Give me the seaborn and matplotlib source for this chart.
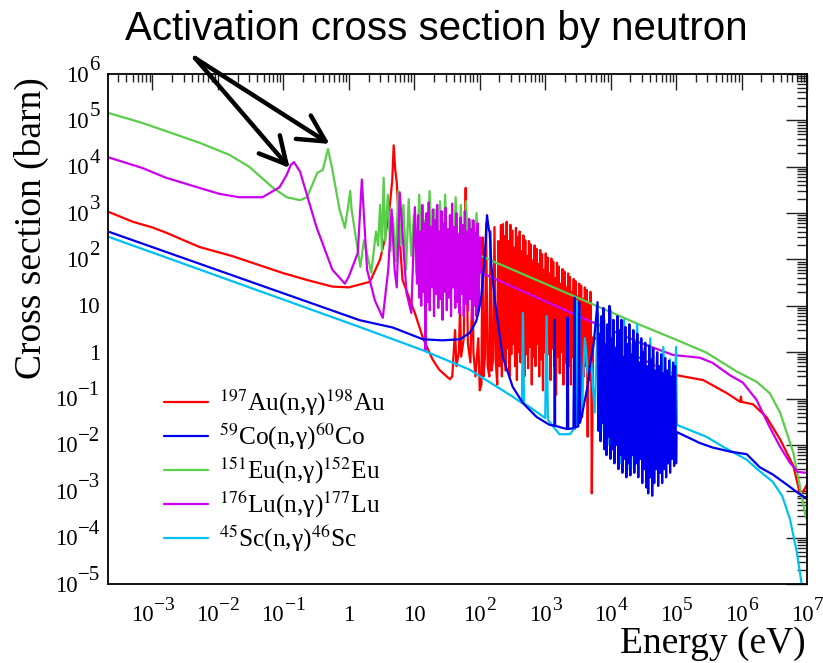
import numpy as np
import pandas as pd
import matplotlib
matplotlib.use("Agg")
import matplotlib.pyplot as plt
import matplotlib.transforms as mtransforms
from matplotlib.ticker import LogLocator, NullFormatter, FixedLocator
import seaborn as sns

# ---------------- data ----------------
# 197Au(n,g)198Au
au_E_low = [2.1e-4, 5e-4, 1e-3, 1.6e-3, 5.2e-3, 0.0166, 0.098, 0.23, 0.56, 1.0, 2.1, 3.0, 3.6, 4.2, 4.6, 4.84, 5.1, 5.4, 6.0, 6.6, 10.2, 13.6, 19, 24, 35]
au_xs_low = [1070, 650, 490, 380, 186, 118, 51, 36, 26, 25, 33, 100, 300, 1350, 5000, 29000, 9000, 4500, 265, 36, 7, 2.0, 0.7, 0.42, 0.26]
au_E_res = [38, 42, 44, 48, 50, 52, 57, 59.5, 61, 62.5, 66, 72, 78, 80, 86, 95, 100, 106, 110, 114, 120, 125, 132, 140, 146, 152, 160, 168, 176, 185, 192, 200, 210, 218]
au_xs_res = [0.3, 3, 0.5, 1, 9.5, 0.8, 2, 400, 3500, 150, 1.5, 0.6, 50, 1.0, 0.3, 2, 0.15, 0.2, 300, 0.3, 0.8, 600, 0.5, 0.3, 400, 0.4, 0.7, 500, 0.6, 0.2, 250, 0.5, 550, 0.3]
au_E_forest = [226, 233.5, 241.3, 249.3, 257.6, 266.2, 275.1, 284.2, 293.7, 303.5,
               313.6, 324, 334.8, 346, 357.5, 369.4, 381.7, 394.4, 407.6, 421.1,
               435.2, 449.7, 464.6, 480.1, 496.1, 512.6, 529.7, 547.3, 565.6, 584.4,
               603.9, 624, 644.8, 666.2, 688.4, 711.4, 735, 759.5, 784.8, 811,
               838, 865.9, 894.7, 924.5, 955.3, 987.1, 1020, 1054, 1089, 1125,
               1163, 1202, 1242, 1283, 1326, 1370, 1416, 1463, 1512, 1562,
               1614, 1668, 1723, 1781, 1840, 1901, 1965, 2030, 2098, 2168,
               2240, 2314, 2391, 2471, 2553, 2638, 2726, 2817, 2911, 3008,
               3108, 3212, 3319, 3429, 3543, 3661, 3783, 3909, 4040, 4174,
               4313, 4457, 4605, 4759, 4917, 5063]
au_xs_forest = [580, 0.8, 320, 0.4, 650, 1.2, 250, 0.3, 560, 0.9,
                420, 1.5, 180, 0.5, 480, 0.25, 300, 1.0, 400, 0.6,
                150, 1.8, 330, 0.3, 260, 0.9, 120, 0.45, 250, 1.3,
                210, 0.2, 95, 0.8, 200, 0.5, 170, 1.5, 80, 0.3,
                160, 0.7, 130, 0.15, 60, 1.0, 135, 0.4, 110, 0.9,
                50, 0.25, 105, 1.2, 90, 0.5, 40, 0.12, 85, 0.8,
                70, 0.35, 30, 1.0, 62, 0.2, 55, 0.6, 25, 0.05,
                50, 0.5, 42, 0.2, 20, 0.8, 38, 0.022, 34, 0.4,
                16, 0.15, 30, 0.6, 27, 0.04, 14, 0.3, 25, 0.5,
                22, 0.015, 12, 0.25, 20, 0.3]
au_E_fast = [5150, 5400, 7700, 15000, 28000, 50000, 1e5, 2.6e5, 6.0e5, 9.5e5, 9.8e5, 1.0e6, 1.5e6, 2.4e6, 3.9e6, 6.2e6, 7.8e6, 8.8e6, 1e7]
au_xs_fast = [9e-4, 2.1, 1.6, 1.1, 0.75, 0.5, 0.32, 0.25, 0.13, 0.085, 0.11, 0.085, 0.075, 0.04, 0.013, 3.5e-3, 8.8e-4, 1.0e-3, 1.4e-3]

# 59Co(n,g)60Co
co_E_low = [2.1e-4, 1.46, 4.7, 13.5, 27, 50, 70, 88, 95, 105, 115, 122, 129, 136, 142, 150, 170, 224, 318, 455, 740, 1170,
            1380, 1400, 1420, 1700, 2150, 2200, 2250, 2700, 2800, 2900, 3200, 3300, 3400, 3700, 4500, 4800, 5500]
co_xs_low = [400, 4.9, 3.4, 1.9, 1.8, 1.9, 2.6, 4.6, 7, 15, 60, 200, 900, 500, 370, 80, 13, 0.8, 0.18, 0.08, 0.04, 0.027,
             0.026, 5, 0.026, 0.024, 0.022, 5.7, 0.022, 0.023, 15, 0.024, 0.025, 12, 0.03, 0.05, 0.2, 0.5, 1.5]
co_E_forest = [6300, 6524, 6757, 6997, 7246, 7504, 7772, 8048, 8335, 8632,
               8939, 9258, 9587, 9929, 10282, 10648, 11028, 11420, 11827, 12248,
               12684, 13136, 13604, 14088, 14590, 15109, 15647, 16205, 16782, 17379,
               17998, 18639, 19303, 19990, 20702, 21439, 22203, 22993, 23812, 24660,
               25538, 26448, 27390, 28365, 29375, 30421, 31504, 32626, 33788, 34991,
               36237, 37527, 38864, 40248, 41681, 43165, 44702, 46294, 47943, 49650,
               51418, 53249, 55145, 57109, 59142, 61248, 63429, 65688, 68027, 70450,
               72958, 75556, 78247, 81033, 83919, 86907, 90002, 93207, 96526, 100000]
co_xs_forest = [12, 0.02, 2.5, 0.012, 6, 0.03, 9, 0.008, 1.5, 0.006,
                4, 0.015, 10, 0.005, 2, 0.008, 5, 0.004, 1.2, 0.01,
                6, 0.003, 3, 0.006, 5, 0.0025, 0.8, 0.005, 3.5, 0.002,
                1.5, 0.004, 4, 0.0022, 0.9, 0.006, 3, 0.0025, 1.6, 0.004,
                2.5, 0.002, 0.6, 0.005, 2, 0.0015, 1.0, 0.003, 1.6, 0.0012,
                0.5, 0.0009, 1.4, 0.002, 0.7, 0.0008, 1.2, 0.0015, 0.4, 0.003,
                1.0, 0.0013, 0.5, 0.0025, 0.9, 0.0015, 0.35, 0.003, 0.75, 0.002,
                0.4, 0.004, 0.65, 0.0025, 0.3, 0.005, 0.6, 0.0035, 0.5, 0.004]
co_E_fast = [1.02e5, 2.3e5, 3.6e5, 6.6e5, 1.2e6, 1.9e6, 3.0e6, 4.9e6, 7.0e6, 1e7]
co_xs_fast = [0.019, 0.011, 8.8e-3, 7.2e-3, 6.3e-3, 3.3e-3, 2.3e-3, 1.4e-3, 9.6e-4, 6.8e-4]

# 151Eu(n,g)152Eu
eu_E_low = [2.1e-4, 7e-4, 5.2e-3, 0.015, 0.030, 0.068, 0.112, 0.18, 0.23, 0.33, 0.40, 0.48, 0.56, 0.72, 0.87, 0.96, 1.05, 1.1,
            1.5, 1.7, 2.2, 2.6, 2.8, 3.0, 3.2, 3.4]
eu_xs_low = [1.45e5, 8.8e4, 3.3e4, 1.8e4, 1.0e4, 3.6e3, 2.2e3, 1.9e3, 2.2e3, 7.4e3, 8.5e3, 2.4e4, 8.6e3, 1.2e3, 480, 1.2e3, 3.0e3, 1.2e3,
             69, 260, 52, 400, 200, 1500, 150, 5800]
eu_E_forest = [3.6, 3.94, 4.32, 4.73, 5.19, 5.69, 6.23, 6.83, 7.49, 8.21, 9.0, 9.86, 10.8, 11.9, 13.0, 14.2, 15.6, 17.1,
               18.7, 20.5, 22.5, 24.7, 27.0, 29.6, 32.5, 35.6, 39.0, 42.8, 46.9, 51.4, 56.3, 61.7, 67.7, 74.2, 81.3, 89.1, 97.7]
eu_xs_forest = [250, 2500, 150, 800, 90, 3000, 200, 1500, 60, 2000, 120, 900, 50, 2500, 80, 700, 40, 3000, 100, 1200,
                30, 1800, 60, 2500, 40, 900, 25, 2200, 60, 1500, 30, 1800, 50, 700, 20, 1000, 40]
eu_E_fast = [102, 3700, 28000, 1e5, 2.9e5, 8.5e5, 1.7e6, 2.7e6, 3.9e6, 6.2e6, 9.4e6, 1e7]
eu_xs_fast = [120, 13.5, 3.9, 1.86, 0.98, 0.38, 0.23, 0.13, 0.049, 6.7e-3, 3.2e-4, 2.4e-4]

# 176Lu(n,g)177Lu
lu_E_low = [2.1e-4, 7e-4, 1.6e-3, 5.2e-3, 0.0105, 0.021, 0.048, 0.087, 0.112, 0.13, 0.145, 0.18, 0.32, 0.56, 0.87, 1.0, 1.37,
            1.58, 1.9, 2.5, 3.3, 4.0, 4.5, 5.0, 5.4, 6.0, 7.6, 9.0, 10.2]
lu_xs_low = [1.6e4, 9.4e3, 5.8e3, 3.5e3, 2.6e3, 2.2e3, 2.2e3, 3.6e3, 6.6e3, 1.1e4, 1.26e4, 7.8e3, 500, 60, 30, 43, 138,
             5300, 60, 13, 5.5, 60, 1200, 60, 25, 2800, 19, 7, 1350]
lu_E_forest = [11.0, 11.42, 11.85, 12.3, 12.77, 13.26, 13.77, 14.29, 14.84, 15.4,
               15.99, 16.6, 17.23, 17.89, 18.57, 19.28, 20.01, 20.78, 21.57, 22.39,
               23.24, 24.13, 25.05, 26.0, 26.99, 28.02, 29.09, 30.2, 31.35, 32.54,
               33.78, 35.07, 36.41, 37.79, 39.23, 40.73, 42.28, 43.89, 45.56, 47.3,
               49.1, 50.97, 52.91, 54.93, 57.02, 59.19, 61.45, 63.79, 66.22, 68.74,
               71.36, 74.08, 76.9, 79.83, 82.87, 86.03, 89.3, 92.71, 96.24, 99.9]
lu_xs_forest = [30, 900, 15, 400, 10, 1500, 20, 600, 1.1, 1000,
                12, 1700, 8, 500, 25, 1200, 6, 700, 18, 1500,
                9, 400, 14, 1100, 5, 600, 20, 1300, 8, 450,
                15, 900, 6, 1600, 25, 500, 9, 1000, 12, 350,
                7, 800, 18, 550, 6, 1100, 11, 400, 8, 750,
                14, 450, 5, 700, 10, 380, 6, 600, 8, 300]
lu_E_fast = [105, 3400, 28000, 90000, 2.3e5, 3.6e5, 6.6e5, 1.05e6, 1.7e6, 2.7e6, 3.9e6, 5.5e6, 7.3e6, 1e7]
lu_xs_fast = [52, 5.8, 1.6, 0.87, 0.76, 0.59, 0.32, 0.22, 0.093, 0.024, 9e-3, 4.1e-3, 2.6e-3, 2.5e-3]

# 45Sc(n,g)46Sc
sc_E_low = [2.1e-4, 1.46, 13.5, 70, 318, 440, 457, 475, 575, 1000, 1050, 1100, 1650, 2400, 2900, 3000, 3100, 3200, 3300, 3400]
sc_xs_low = [310, 3.5, 1.1, 0.42, 0.11, 0.08, 7, 0.078, 0.066, 0.038, 6, 0.035, 0.017, 0.017, 0.025, 13, 0.03, 0.032, 9, 0.04]
sc_E_forest = [3600, 4040, 4530, 5080, 5700, 6400, 7180, 8050, 9030, 10100, 11400, 12800, 14300, 16100, 18000,
               20200, 22700, 25400, 28500, 32000, 35900, 40300, 45200, 50700, 56900, 63800, 71600, 80300, 90100, 100000]
sc_xs_forest = [0.05, 2, 0.3, 0.6, 0.05, 7, 0.02, 5, 0.01, 8, 0.006, 2, 0.004, 5, 0.003,
                1.5, 0.003, 4, 0.005, 1.2, 0.004, 2, 0.006, 0.8, 0.008, 1.3, 0.01, 0.7, 0.015, 1.3]
sc_E_fast = [1.03e5, 2.9e5, 5.1e5, 1.2e6, 1.9e6, 3.0e6, 4.2e6, 5.5e6, 7.0e6, 8.2e6, 8.6e6]
sc_xs_fast = [0.027, 0.015, 9.3e-3, 4.8e-3, 2.7e-3, 1.6e-3, 7.8e-4, 2.5e-4, 4.8e-5, 1.1e-5, 5e-6]

labels = [r"$^{197}$Au(n,γ)$^{198}$Au", r"$^{59}$Co(n,γ)$^{60}$Co", r"$^{151}$Eu(n,γ)$^{152}$Eu",
          r"$^{176}$Lu(n,γ)$^{177}$Lu", r"$^{45}$Sc(n,γ)$^{46}$Sc"]
colors = ["#ff0000", "#0000ee", "#5acd4a", "#cc00ee", "#00c0f2"]

x_ticks = [1e-3, 1e-2, 1e-1, 1, 10, 1e2, 1e3, 1e4, 1e5, 1e6, 1e7]
x_tick_base = ["10", "10", "10", "1", "10", "10", "10", "10", "10", "10", "10"]
x_tick_exp = ["−3", "−2", "−1", None, None, "2", "3", "4", "5", "6", "7"]
y_ticks = [1e-5, 1e-4, 1e-3, 1e-2, 1e-1, 1, 10, 1e2, 1e3, 1e4, 1e5, 1e6]
y_tick_base = ["10", "10", "10", "10", "10", "1", "10", "10", "10", "10", "10", "10"]
y_tick_exp = ["−5", "−4", "−3", "−2", "−1", None, None, "2", "3", "4", "5", "6"]

arrow_tips = [(0.1245, 9.4e3), (0.508, 3.1e4)]

# ---------------- figure ----------------
sns.set_style("white")
plt.rcParams["font.family"] = ["Liberation Serif", "DejaVu Serif"]
plt.rcParams["mathtext.fontset"] = "stix"
plt.rcParams["text.color"] = "black"

W, H = 823, 663
fig = plt.figure(figsize=(W / 100, H / 100), dpi=100)
ax = fig.add_axes([108 / W, 79 / H, 699 / W, 510 / H])
ax.set_xscale("log")
ax.set_yscale("log")

series = {
    labels[0]: (au_E_low + au_E_res + au_E_forest + au_E_fast, au_xs_low + au_xs_res + au_xs_forest + au_xs_fast),
    labels[1]: (co_E_low + co_E_forest + co_E_fast, co_xs_low + co_xs_forest + co_xs_fast),
    labels[2]: (eu_E_low + eu_E_forest + eu_E_fast, eu_xs_low + eu_xs_forest + eu_xs_fast),
    labels[3]: (lu_E_low + lu_E_forest + lu_E_fast, lu_xs_low + lu_xs_forest + lu_xs_fast),
    labels[4]: (sc_E_low + sc_E_forest + sc_E_fast, sc_xs_low + sc_xs_forest + sc_xs_fast),
}
draw_order = [0, 2, 3, 4, 1]
for k, i in enumerate(draw_order):
    E, xs = series[labels[i]]
    df = pd.DataFrame({"E": E, "xs": xs})
    sns.lineplot(data=df, x="E", y="xs", color=colors[i], lw=1.6, estimator=None, sort=False,
                 label=labels[i], ax=ax, zorder=2 + 0.1 * k)

ax.set_xlim(2.09e-4, 1e7)
ax.set_ylim(1e-5, 1e6)
ax.set_xlabel("")
ax.set_ylabel("")

# ticks (ROOT style: inside, on all four sides)
ax.xaxis.set_major_locator(FixedLocator(x_ticks))
ax.yaxis.set_major_locator(FixedLocator(y_ticks))
ax.xaxis.set_minor_locator(LogLocator(base=10, subs=np.arange(2, 10), numticks=30))
ax.yaxis.set_minor_locator(LogLocator(base=10, subs=np.arange(2, 10), numticks=30))
ax.xaxis.set_minor_formatter(NullFormatter())
ax.yaxis.set_minor_formatter(NullFormatter())
ax.tick_params(which="both", direction="in", top=True, right=True, labelbottom=False, labelleft=False,
               color="#222222", width=1.0)
ax.tick_params(axis="x", which="major", length=11.5)
ax.tick_params(axis="x", which="minor", length=5.8)
ax.tick_params(axis="y", which="major", length=15)
ax.tick_params(axis="y", which="minor", length=7.5)
for s in ax.spines.values():
    s.set_linewidth(1.3)
    s.set_color("black")

# tick labels: base + large superscript (ROOT look)
renderer = fig.canvas.get_renderer()
FS_B, FS_E, RAISE = 16.5, 15, 11.5


def off(tr, dx, dy):
    return mtransforms.offset_copy(tr, fig=fig, x=dx, y=dy, units="dots")


xtr = ax.get_xaxis_transform()
XB = -37
for v, b, e in zip(x_ticks, x_tick_base, x_tick_exp):
    tb = ax.text(v, 0, b, transform=off(xtr, 0, XB), ha="left", va="baseline", fontsize=FS_B, clip_on=False)
    wb = tb.get_window_extent(renderer).width
    if e is None:
        tb.set_transform(off(xtr, -wb / 2, XB))
        continue
    te = ax.text(v, 0, e, transform=off(xtr, 0, XB + RAISE), ha="left", va="baseline", fontsize=FS_E - 1, clip_on=False)
    we = te.get_window_extent(renderer).width
    tot = wb + we + 0.5
    tb.set_transform(off(xtr, -tot / 2, XB))
    te.set_transform(off(xtr, -tot / 2 + wb + 0.5, XB + RAISE))

ytr = ax.get_yaxis_transform()
YX, YB = -8, -7.5
for v, b, e in zip(y_ticks, y_tick_base, y_tick_exp):
    if e is None:
        ax.text(0, v, b, transform=off(ytr, YX, YB), ha="right", va="baseline", fontsize=FS_B, clip_on=False)
        continue
    te = ax.text(0, v, e, transform=off(ytr, YX, YB + RAISE), ha="right", va="baseline", fontsize=FS_E, clip_on=False)
    we = te.get_window_extent(renderer).width
    ax.text(0, v, b, transform=off(ytr, YX - we - 0.5, YB), ha="right", va="baseline", fontsize=FS_B, clip_on=False)

# axis titles
fig.text(31 / W, 1 - 228 / H, "Cross section (barn)", rotation=90, ha="center", va="center", fontsize=27)
fig.text(806 / W, (H - 653) / H, "Energy (eV)", ha="right", va="baseline", fontsize=27)

# legend
handles, labs = ax.get_legend_handles_labels()
order = [labs.index(l) for l in labels]
ax.legend([handles[i] for i in order], [labs[i] for i in order], loc="upper left",
          bbox_to_anchor=(164 / W, 1 - 388 / H), bbox_transform=fig.transFigure, frameon=False,
          fontsize=18.3, handlelength=1.75, handletextpad=0.43, labelspacing=0.15, borderpad=0, borderaxespad=0)

# annotation
fig.text(436.5 / W, 1 - 40 / H, "Activation cross section by neutron", ha="center", va="baseline",
         fontsize=29, family=["Liberation Sans", "DejaVu Sans"])
for tip in arrow_tips:
    ax.annotate("", xy=tip, xycoords="data", xytext=(195 / W, 1 - 58 / H), textcoords="figure fraction",
                arrowprops=dict(arrowstyle="->,head_length=0.95,head_width=0.5", lw=3.2, color="black",
                                mutation_scale=20, shrinkA=0, shrinkB=0),
                annotation_clip=False, zorder=10)

fig.savefig("out.png", dpi=100)
